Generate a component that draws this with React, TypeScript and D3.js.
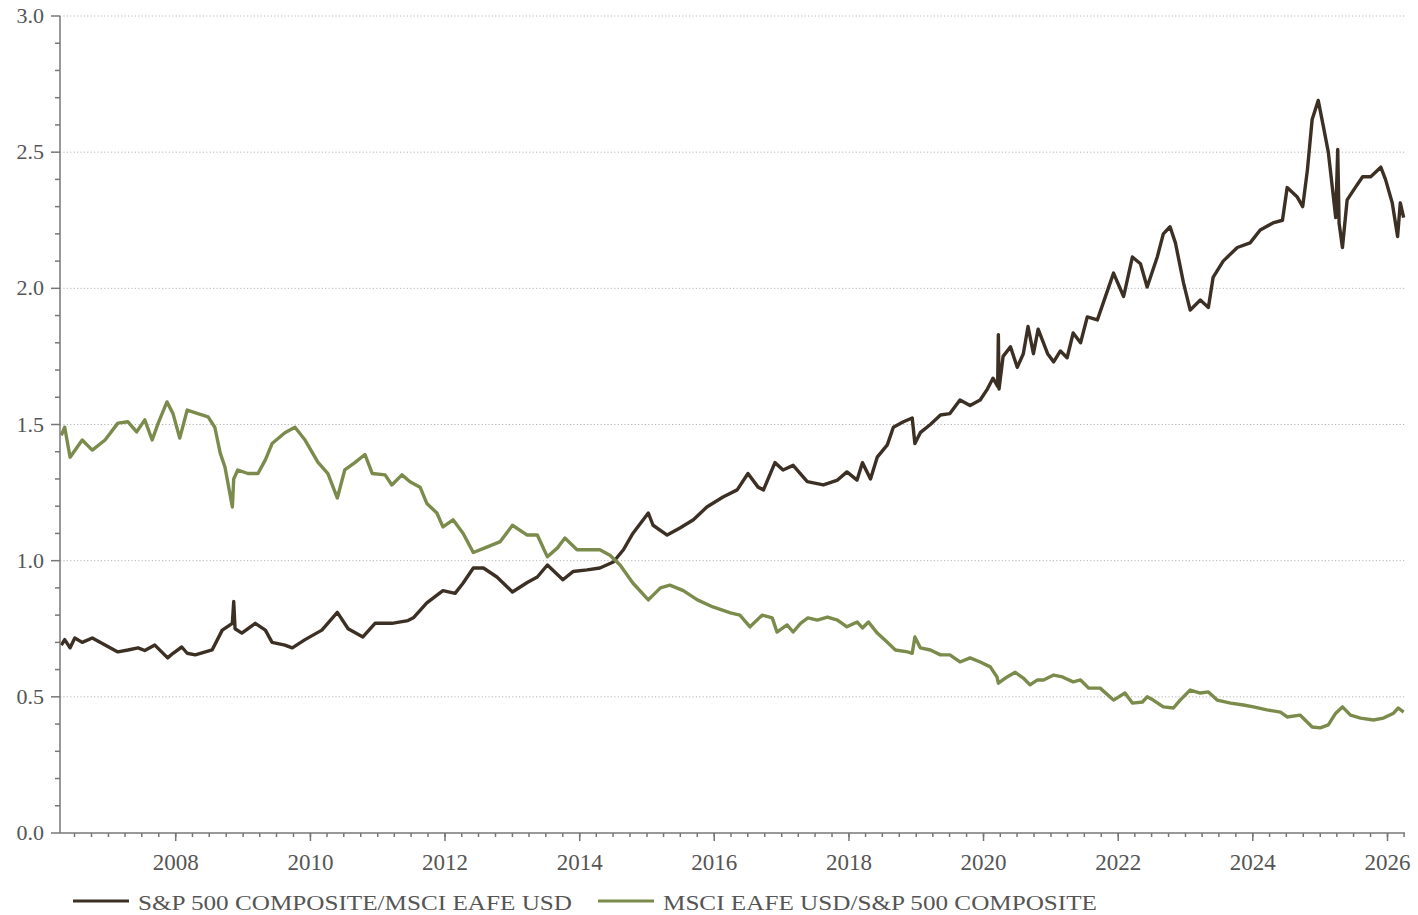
import React from "react"
import * as d3 from "d3"

// [decimal year, ratio]
const spxOverEafe: [number, number][] = [
  [2006.3, 0.69], [2006.35, 0.71], [2006.43, 0.68], [2006.5, 0.716], [2006.61, 0.7], [2006.76, 0.716],
  [2006.95, 0.69], [2007.14, 0.665], [2007.29, 0.672], [2007.44, 0.68], [2007.54, 0.67], [2007.69, 0.69],
  [2007.88, 0.643], [2007.96, 0.66], [2008.09, 0.683], [2008.17, 0.66], [2008.29, 0.654], [2008.54, 0.672],
  [2008.69, 0.745], [2008.84, 0.77], [2008.86, 0.85], [2008.88, 0.75], [2008.98, 0.734], [2009.18, 0.77],
  [2009.33, 0.745], [2009.43, 0.7], [2009.62, 0.69], [2009.73, 0.68], [2009.92, 0.71], [2010.17, 0.745],
  [2010.4, 0.81], [2010.56, 0.75], [2010.78, 0.72], [2010.96, 0.77], [2011.21, 0.77], [2011.45, 0.78],
  [2011.53, 0.79], [2011.73, 0.845], [2011.97, 0.89], [2012.15, 0.88], [2012.27, 0.918], [2012.42, 0.973],
  [2012.57, 0.973], [2012.77, 0.94], [2013.0, 0.885], [2013.22, 0.92], [2013.37, 0.94], [2013.52, 0.984],
  [2013.75, 0.93], [2013.9, 0.96], [2014.11, 0.966], [2014.3, 0.973], [2014.5, 0.995], [2014.65, 1.04],
  [2014.79, 1.1], [2015.02, 1.175], [2015.09, 1.13], [2015.3, 1.094], [2015.49, 1.12], [2015.69, 1.15],
  [2015.89, 1.197], [2016.13, 1.234], [2016.34, 1.26], [2016.5, 1.32], [2016.65, 1.27], [2016.73, 1.26],
  [2016.9, 1.36], [2017.02, 1.333], [2017.17, 1.35], [2017.38, 1.29], [2017.62, 1.278], [2017.83, 1.296],
  [2017.97, 1.326], [2018.12, 1.296], [2018.2, 1.36], [2018.32, 1.3], [2018.42, 1.38], [2018.57, 1.425],
  [2018.66, 1.49], [2018.81, 1.51], [2018.94, 1.524], [2018.98, 1.43], [2019.06, 1.47], [2019.21, 1.5],
  [2019.36, 1.535], [2019.5, 1.54], [2019.65, 1.59], [2019.8, 1.57], [2019.95, 1.59], [2020.05, 1.627],
  [2020.14, 1.67], [2020.21, 1.64], [2020.22, 1.83], [2020.23, 1.63], [2020.29, 1.75], [2020.4, 1.785],
  [2020.5, 1.71], [2020.59, 1.76], [2020.66, 1.86], [2020.74, 1.76], [2020.81, 1.85], [2020.95, 1.76],
  [2021.04, 1.73], [2021.14, 1.77], [2021.24, 1.745], [2021.33, 1.836], [2021.44, 1.8], [2021.54, 1.895],
  [2021.69, 1.884], [2021.93, 2.056], [2022.08, 1.97], [2022.21, 2.115], [2022.33, 2.09], [2022.43, 2.005],
  [2022.58, 2.115], [2022.67, 2.2], [2022.77, 2.226], [2022.85, 2.167], [2022.97, 2.02], [2023.07, 1.92],
  [2023.22, 1.957], [2023.34, 1.93], [2023.41, 2.04], [2023.56, 2.1], [2023.77, 2.15], [2023.96, 2.167],
  [2024.11, 2.214], [2024.3, 2.24], [2024.44, 2.25], [2024.51, 2.37], [2024.66, 2.335], [2024.74, 2.3],
  [2024.81, 2.435], [2024.88, 2.62], [2024.97, 2.69], [2025.05, 2.59], [2025.12, 2.5], [2025.18, 2.37],
  [2025.23, 2.26], [2025.26, 2.51], [2025.28, 2.24], [2025.33, 2.15], [2025.4, 2.325], [2025.52, 2.37],
  [2025.63, 2.41], [2025.75, 2.41], [2025.9, 2.445], [2025.97, 2.4], [2026.07, 2.314], [2026.15, 2.19],
  [2026.19, 2.314], [2026.24, 2.26],
]

const eafeOverSpx: [number, number][] = [
  [2006.3, 1.46], [2006.35, 1.49], [2006.43, 1.38], [2006.61, 1.443], [2006.76, 1.406], [2006.95, 1.443],
  [2007.14, 1.505], [2007.29, 1.51], [2007.42, 1.473], [2007.54, 1.517], [2007.65, 1.443], [2007.74, 1.505],
  [2007.87, 1.583], [2007.96, 1.54], [2008.06, 1.45], [2008.17, 1.553], [2008.33, 1.54], [2008.48, 1.528],
  [2008.58, 1.49], [2008.66, 1.395], [2008.73, 1.344], [2008.84, 1.197], [2008.86, 1.3], [2008.92, 1.333],
  [2009.07, 1.32], [2009.22, 1.32], [2009.33, 1.37], [2009.43, 1.43], [2009.62, 1.47], [2009.77, 1.49],
  [2009.92, 1.443], [2010.11, 1.362], [2010.26, 1.32], [2010.4, 1.23], [2010.51, 1.333], [2010.66, 1.36],
  [2010.81, 1.39], [2010.92, 1.32], [2011.11, 1.315], [2011.21, 1.278], [2011.36, 1.315], [2011.48, 1.29],
  [2011.63, 1.27], [2011.73, 1.21], [2011.88, 1.175], [2011.97, 1.124], [2012.12, 1.15], [2012.27, 1.1],
  [2012.42, 1.03], [2012.62, 1.05], [2012.82, 1.07], [2013.0, 1.13], [2013.22, 1.094], [2013.37, 1.094],
  [2013.52, 1.014], [2013.67, 1.047], [2013.78, 1.083], [2013.96, 1.04], [2014.11, 1.04], [2014.3, 1.04],
  [2014.45, 1.02], [2014.6, 0.984], [2014.79, 0.918], [2015.02, 0.856], [2015.2, 0.9], [2015.34, 0.91],
  [2015.54, 0.89], [2015.75, 0.856], [2015.98, 0.83], [2016.24, 0.808], [2016.38, 0.8], [2016.53, 0.757],
  [2016.71, 0.8], [2016.86, 0.79], [2016.93, 0.738], [2017.08, 0.764], [2017.17, 0.738], [2017.28, 0.77],
  [2017.39, 0.79], [2017.53, 0.782], [2017.68, 0.793], [2017.83, 0.782], [2017.97, 0.757], [2018.12, 0.775],
  [2018.2, 0.753], [2018.29, 0.775], [2018.42, 0.734], [2018.57, 0.7], [2018.69, 0.672], [2018.87, 0.665],
  [2018.94, 0.66], [2018.98, 0.72], [2019.06, 0.68], [2019.21, 0.672], [2019.36, 0.654], [2019.5, 0.654],
  [2019.65, 0.628], [2019.8, 0.643], [2019.95, 0.628], [2020.1, 0.61], [2020.2, 0.573], [2020.22, 0.55],
  [2020.35, 0.573], [2020.47, 0.59], [2020.59, 0.569], [2020.69, 0.544], [2020.8, 0.562], [2020.89, 0.562],
  [2021.04, 0.58], [2021.17, 0.573], [2021.33, 0.555], [2021.44, 0.562], [2021.56, 0.532], [2021.73, 0.532],
  [2021.93, 0.488], [2022.1, 0.514], [2022.21, 0.477], [2022.36, 0.481], [2022.43, 0.5], [2022.52, 0.488],
  [2022.67, 0.463], [2022.82, 0.459], [2022.92, 0.488], [2023.07, 0.525], [2023.22, 0.514], [2023.34, 0.518],
  [2023.47, 0.488], [2023.67, 0.477], [2023.86, 0.47], [2024.01, 0.463], [2024.21, 0.452], [2024.41, 0.444],
  [2024.51, 0.426], [2024.7, 0.433], [2024.88, 0.389], [2025.0, 0.386], [2025.12, 0.397], [2025.23, 0.44],
  [2025.33, 0.463], [2025.45, 0.433], [2025.6, 0.422], [2025.79, 0.415], [2025.94, 0.422], [2026.09, 0.44],
  [2026.16, 0.459], [2026.24, 0.444],
]

const yTicks = [0, 0.5, 1.0, 1.5, 2.0, 2.5, 3.0]
const xTickYears = [2008, 2010, 2012, 2014, 2016, 2018, 2020, 2022, 2024, 2026]
const seriesNames = ["S&P 500 COMPOSITE/MSCI EAFE USD", "MSCI EAFE USD/S&P 500 COMPOSITE"]
const colors = ["#3c3025", "#7b8b4b"]

function yearToDate(y: number) {
  const yr = Math.floor(y)
  const a = new Date(yr, 0, 1).getTime()
  const b = new Date(yr + 1, 0, 1).getTime()
  return new Date(a + (y - yr) * (b - a))
}

const W = 1418
const H = 915
const left = 60
const right = 1405
const top = 16
const bottom = 833
const textColor = "#555"
const axisColor = "#777"
const font = "'Liberation Serif', 'Times New Roman', serif"

export default function App() {
  const x = d3
    .scaleTime()
    .domain([yearToDate(2006.28), yearToDate(2026.26)])
    .range([left, right])
  const y = d3.scaleLinear().domain([0, 3]).range([bottom, top])

  const line = d3
    .line<[number, number]>()
    .x(d => x(yearToDate(d[0])))
    .y(d => y(d[1]))

  const quarterTicks = d3.timeMonth.every(3)!.range(x.domain()[0], x.domain()[1])
  const minorY = d3.range(0, 31).map(i => i / 10)

  return (
    <svg
      width={W}
      height={H}
      style={{ position: "absolute", left: 0, top: 0, background: "#fff" }}
    >
      {/* grid */}
      {yTicks.filter(t => t > 0).map(t => (
        <line
          key={"g" + t}
          x1={left}
          x2={right}
          y1={y(t)}
          y2={y(t)}
          stroke="#b5b5b5"
          strokeWidth={1}
          strokeDasharray="1.2 2.2"
        />
      ))}

      {/* series */}
      {[spxOverEafe, eafeOverSpx].map((s, i) => (
        <path
          key={"s" + i}
          d={line(s) || ""}
          fill="none"
          stroke={colors[i]}
          strokeWidth={3.4}
          strokeLinejoin="round"
        />
      ))}

      {/* y axis */}
      <line x1={left} x2={left} y1={top} y2={bottom} stroke={axisColor} strokeWidth={1.5} />
      {minorY.map(t => (
        <line
          key={"ym" + t}
          x1={left - (Math.round(t * 10) % 5 === 0 ? 9 : 5)}
          x2={left}
          y1={y(t)}
          y2={y(t)}
          stroke={axisColor}
          strokeWidth={1.5}
        />
      ))}
      {yTicks.map(t => (
        <text
          key={"yl" + t}
          x={44}
          y={y(t) + 7}
          textAnchor="end"
          fontFamily={font}
          fontSize={22}
          fill={textColor}
        >
          {t.toFixed(1)}
        </text>
      ))}

      {/* x axis */}
      <line x1={left} x2={right} y1={bottom} y2={bottom} stroke={axisColor} strokeWidth={1.5} />
      {quarterTicks.map(d => (
        <line
          key={"xm" + d.getTime()}
          x1={x(d)}
          x2={x(d)}
          y1={bottom}
          y2={bottom + 4}
          stroke={axisColor}
          strokeWidth={1.5}
        />
      ))}
      {xTickYears.map(yr => (
        <g key={"xl" + yr}>
          <line
            x1={x(new Date(yr, 0, 1))}
            x2={x(new Date(yr, 0, 1))}
            y1={bottom}
            y2={bottom + 8}
            stroke={axisColor}
            strokeWidth={1.5}
          />
          <text
            x={x(new Date(yr, 0, 1))}
            y={870}
            textAnchor="middle"
            fontFamily={font}
            fontSize={23}
            fill={textColor}
          >
            {yr}
          </text>
        </g>
      ))}

      {/* legend */}
      {seriesNames.map((name, i) => {
        const lx = i === 0 ? 73 : 598
        return (
          <g key={"lg" + i}>
            <line x1={lx} x2={lx + 56} y1={901} y2={901} stroke={colors[i]} strokeWidth={3} />
            <text
              x={lx + 65}
              y={910}
              fontFamily={font}
              fontSize={21}
              fill={textColor}
              textLength={434}
              lengthAdjust="spacingAndGlyphs"
            >
              {name}
            </text>
          </g>
        )
      })}
    </svg>
  )
}
